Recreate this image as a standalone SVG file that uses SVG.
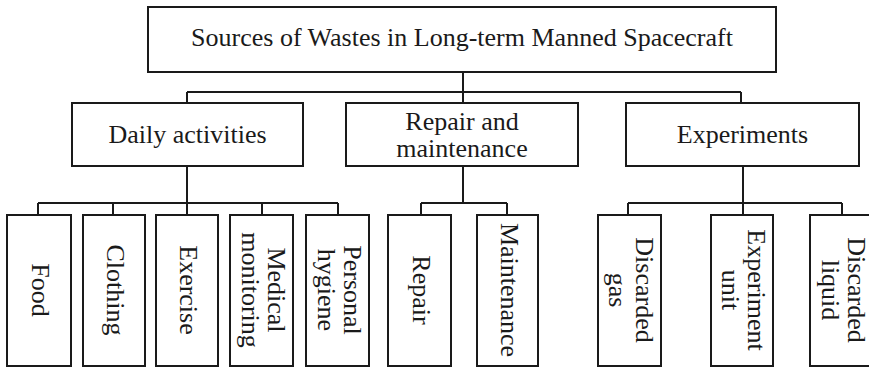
<svg xmlns="http://www.w3.org/2000/svg" width="869" height="368" viewBox="0 0 869 368">
<style>
rect{fill:#fff;stroke:#1a1a1a;stroke-width:2}
.c path{fill:none;stroke:#1a1a1a;stroke-width:2}
text{font-family:"Liberation Serif","Times New Roman",serif;font-size:26px;fill:#1a1a1a;text-anchor:middle}
</style>
<rect x="0" y="0" width="869" height="368" style="stroke:none"/>
<g class="c" id="connectors">
<path d="M463 72V92M187 92H741M187 92V103M463 92V103M741 92V103"/>
<path d="M187 166V203M38 203H338M38 203V215M113 203V215M187 203V215M262 203V215M338 203V215"/>
<path d="M463 166V203M421 203H507M421 203V215M507 203V215"/>
<path d="M743 166V203M628 203H842M628 203V215M743 203V215M842 203V215"/>
</g>
<g id="root"><rect x="148" y="7" width="628" height="65"/><text x="462" y="46">Sources of Wastes in Long-term Manned Spacecraft</text></g>
<g id="daily"><rect x="72" y="103" width="231" height="63"/><text x="187.5" y="143">Daily activities</text></g>
<g id="repairmaint"><rect x="346" y="103" width="232" height="63"/><text x="462" y="130">Repair and</text><text x="462" y="157">maintenance</text></g>
<g id="experiments"><rect x="626" y="103" width="233" height="63"/><text x="742.5" y="143">Experiments</text></g>
<g id="food"><rect x="7" y="215" width="64" height="151"/><text transform="translate(39,290) rotate(90)" y="7">Food</text></g>
<g id="clothing"><rect x="83" y="215" width="62" height="151"/><text transform="translate(114,290) rotate(90)" y="7">Clothing</text></g>
<g id="exercise"><rect x="156" y="215" width="62" height="151"/><text transform="translate(187,290) rotate(90)" y="7">Exercise</text></g>
<g id="medical"><rect x="230" y="215" width="63" height="151"/><text transform="translate(261.5,290) rotate(90)" y="-6">Medical</text><text transform="translate(261.5,290) rotate(90)" y="20">monitoring</text></g>
<g id="hygiene"><rect x="306" y="215" width="63" height="151"/><text transform="translate(337.5,290) rotate(90)" y="-6">Personal</text><text transform="translate(337.5,290) rotate(90)" y="20">hygiene</text></g>
<g id="repair"><rect x="388" y="215" width="63" height="151"/><text transform="translate(419.5,290) rotate(90)" y="7">Repair</text></g>
<g id="maintenance"><rect x="477" y="215" width="61" height="151"/><text transform="translate(507.5,290) rotate(90)" y="7">Maintenance</text></g>
<g id="gas"><rect x="598" y="215" width="63" height="151"/><text transform="translate(629.5,290) rotate(90)" y="-6">Discarded</text><text transform="translate(629.5,290) rotate(90)" y="21">gas</text></g>
<g id="unit"><rect x="711" y="215" width="62" height="151"/><text transform="translate(742,290) rotate(90)" y="-6">Experiment</text><text transform="translate(742,290) rotate(90)" y="20">unit</text></g>
<g id="liquid"><rect x="810" y="215" width="63" height="151"/><text transform="translate(841.5,290) rotate(90)" y="-6">Discarded</text><text transform="translate(841.5,290) rotate(90)" y="20">liquid</text></g>
</svg>
